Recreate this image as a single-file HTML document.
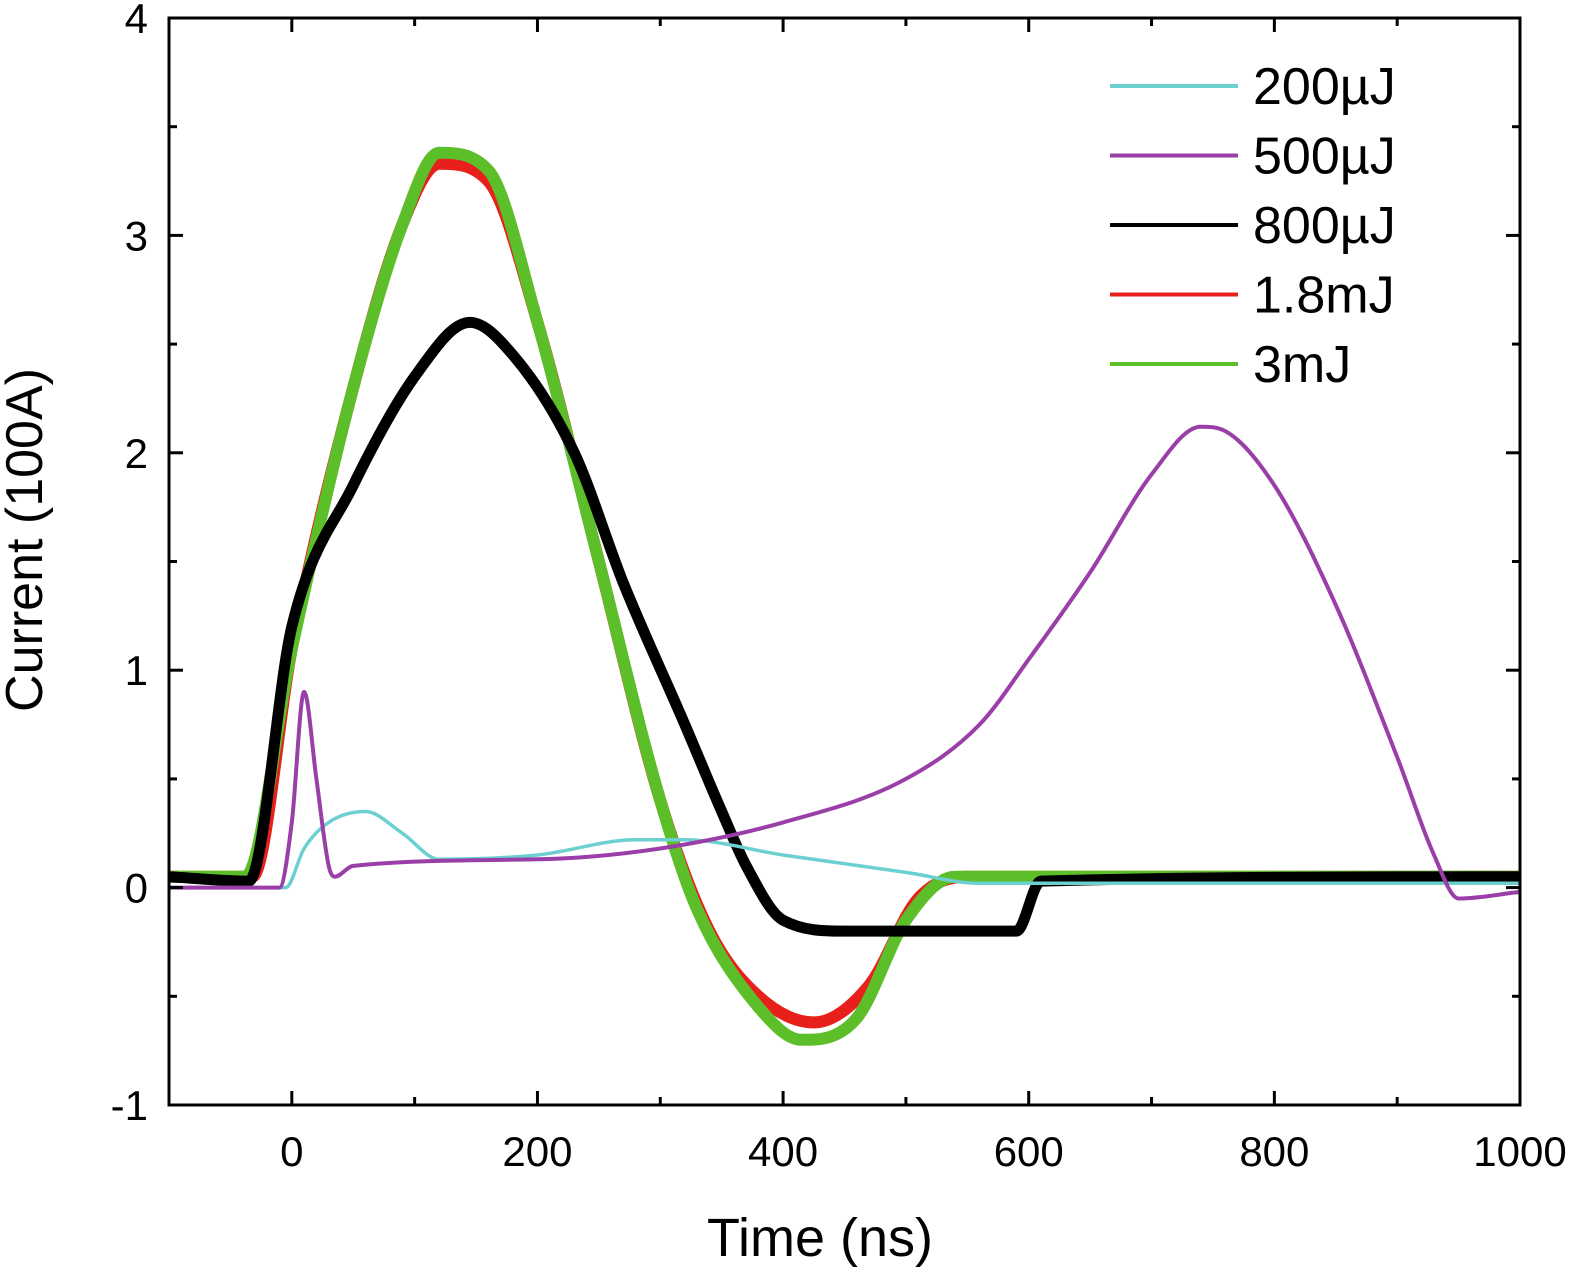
<!DOCTYPE html>
<html><head><meta charset="utf-8"><style>
body{margin:0;background:#fff}
svg text{font-family:"Liberation Sans",sans-serif;fill:#000}
</style></head><body>
<svg id="chart" width="1575" height="1271" xmlns="http://www.w3.org/2000/svg">
<g id="series"></g>
<g id="axes"></g>
<g id="legend"></g>
</svg>
<script>
const xTicks=[0,200,400,600,800,1000];
const yTicks=[-1,0,1,2,3,4];
const xLabels=["0","200","400","600","800","1000"];
const yLabels=["-1","0","1","2","3","4"];
const t200=[-100,-5,10,30,60,90,120,200,280,320,400,500,560,1000];
const v200=[0,0,0.18,0.3,0.35,0.25,0.13,0.15,0.22,0.22,0.15,0.07,0.02,0.02];
const t500=[-100,-10,0,10,20,30,35,50,200,300,400,500,560,600,650,700,740,760,800,850,900,930,950,1000];
const v500=[0,0,0.3,0.9,0.5,0.1,0.05,0.1,0.13,0.18,0.3,0.5,0.75,1.05,1.45,1.9,2.12,2.1,1.85,1.3,0.6,0.15,-0.05,-0.02];
const t800=[-100,-35,0,50,100,145,180,230,270,320,350,370,400,450,500,590,610,1000];
const v800=[0.05,0.03,1.2,1.85,2.35,2.6,2.45,2.0,1.4,0.75,0.35,0.1,-0.15,-0.2,-0.2,-0.2,0.03,0.05];
const t18=[-100,-32,0,50,90,120,160,200,250,300,340,380,425,470,510,550,1000];
const v18=[0.05,0.05,1.1,2.3,3.05,3.33,3.25,2.6,1.5,0.4,-0.2,-0.5,-0.62,-0.45,-0.05,0.05,0.05];
const t3=[-100,-38,0,50,90,120,160,200,250,300,330,380,415,460,500,540,1000];
const v3=[0.05,0.05,1.1,2.3,3.05,3.38,3.3,2.6,1.5,0.4,-0.1,-0.55,-0.7,-0.6,-0.15,0.05,0.05];
const names=["200µJ","500µJ","800µJ","1.8mJ","3mJ"];
const NS="http://www.w3.org/2000/svg";
const L=169,R=1520,T=18,B=1105;
const xS=v=>L+(v+100)/1100*(R-L);
const yS=v=>B-(v+1)/5*(B-T);
function mk(tag,attrs,parent){const e=document.createElementNS(NS,tag);for(const k in attrs)e.setAttribute(k,attrs[k]);parent.appendChild(e);return e;}
// monotone cubic (Fritsch-Carlson) path — no overshoot
function smooth(ts,vs){
 const x=ts.map(xS),y=vs.map(yS),n=x.length;
 const d=[],m=new Array(n);
 for(let i=0;i<n-1;i++)d.push((y[i+1]-y[i])/(x[i+1]-x[i]));
 m[0]=d[0];m[n-1]=d[n-2];
 for(let i=1;i<n-1;i++){m[i]=(d[i-1]*d[i]<=0)?0:(d[i-1]+d[i])/2;}
 for(let i=0;i<n-1;i++){
  if(d[i]===0){m[i]=0;m[i+1]=0;continue;}
  const a=m[i]/d[i],b=m[i+1]/d[i],s=a*a+b*b;
  if(s>9){const t=3/Math.sqrt(s);m[i]=t*a*d[i];m[i+1]=t*b*d[i];}
 }
 let p='M'+x[0].toFixed(1)+','+y[0].toFixed(1);
 for(let i=0;i<n-1;i++){const h=(x[i+1]-x[i])/3;
  p+='C'+(x[i]+h).toFixed(1)+','+(y[i]+m[i]*h).toFixed(1)+' '+(x[i+1]-h).toFixed(1)+','+(y[i+1]-m[i+1]*h).toFixed(1)+' '+x[i+1].toFixed(1)+','+y[i+1].toFixed(1);}
 return p;
}
const sg=document.getElementById('series');
const order=[[t18,v18,"#e8201c",12,"1.8mJ"],[t3,v3,"#5cbf2a",12,"3mJ"],[t800,v800,"#000",11,"800uJ"],[t200,v200,"#6ccfd0",3.5,"200uJ"],[t500,v500,"#9b3fa8",4,"500uJ"]];
order.forEach(s=>{
 const p=mk('path',{d:smooth(s[0],s[1]),fill:'none',stroke:s[2],'stroke-width':s[3],'stroke-linejoin':'round'},sg);
 
 
});
const ag=document.getElementById('axes');
const fr=mk('rect',{x:L,y:T,width:R-L,height:B-T,fill:'none',stroke:'#000','stroke-width':3},ag);


for(let v=-100;v<=1000;v+=100){const x=xS(v),len=(v%200===0)?14:8;
 mk('line',{x1:x,x2:x,y1:B,y2:B-len,stroke:'#000','stroke-width':3},ag);
 mk('line',{x1:x,x2:x,y1:T,y2:T+len,stroke:'#000','stroke-width':3},ag);}
for(let v=-1;v<=4;v+=0.5){const y=yS(v),len=(Number.isInteger(v))?14:8;
 mk('line',{x1:L,x2:L+len,y1:y,y2:y,stroke:'#000','stroke-width':3},ag);
 mk('line',{x1:R,x2:R-len,y1:y,y2:y,stroke:'#000','stroke-width':3},ag);}
xTicks.forEach((v,i)=>{const t=mk('text',{x:xS(v),y:1166,'font-size':42,'text-anchor':'middle'},ag);t.textContent=xLabels[i];
 
 });
yTicks.forEach((v,i)=>{const t=mk('text',{x:148,y:yS(v)+15,'font-size':42,'text-anchor':'end'},ag);t.textContent=yLabels[i];
 
 });
const xt=mk('text',{x:820,y:1256,'font-size':54,'text-anchor':'middle'},ag);xt.textContent="Time (ns)";


const yt=mk('text',{x:0,y:0,'font-size':52,'text-anchor':'middle',transform:'translate(42,540) rotate(-90)'},ag);yt.textContent="Current (100A)";


const lg=document.getElementById('legend');
const lc=["#6ccfd0","#9b3fa8","#000","#e8201c","#5cbf2a"];
names.forEach((n,i)=>{const y=86+i*69.5;
 const ln=mk('line',{x1:1110,x2:1238,y1:y,y2:y,stroke:lc[i],'stroke-width':4},lg);
 
 
 const t=mk('text',{x:1253,y:y+18,'font-size':52},lg);t.textContent=n;
 
 });
</script>
</body></html>
